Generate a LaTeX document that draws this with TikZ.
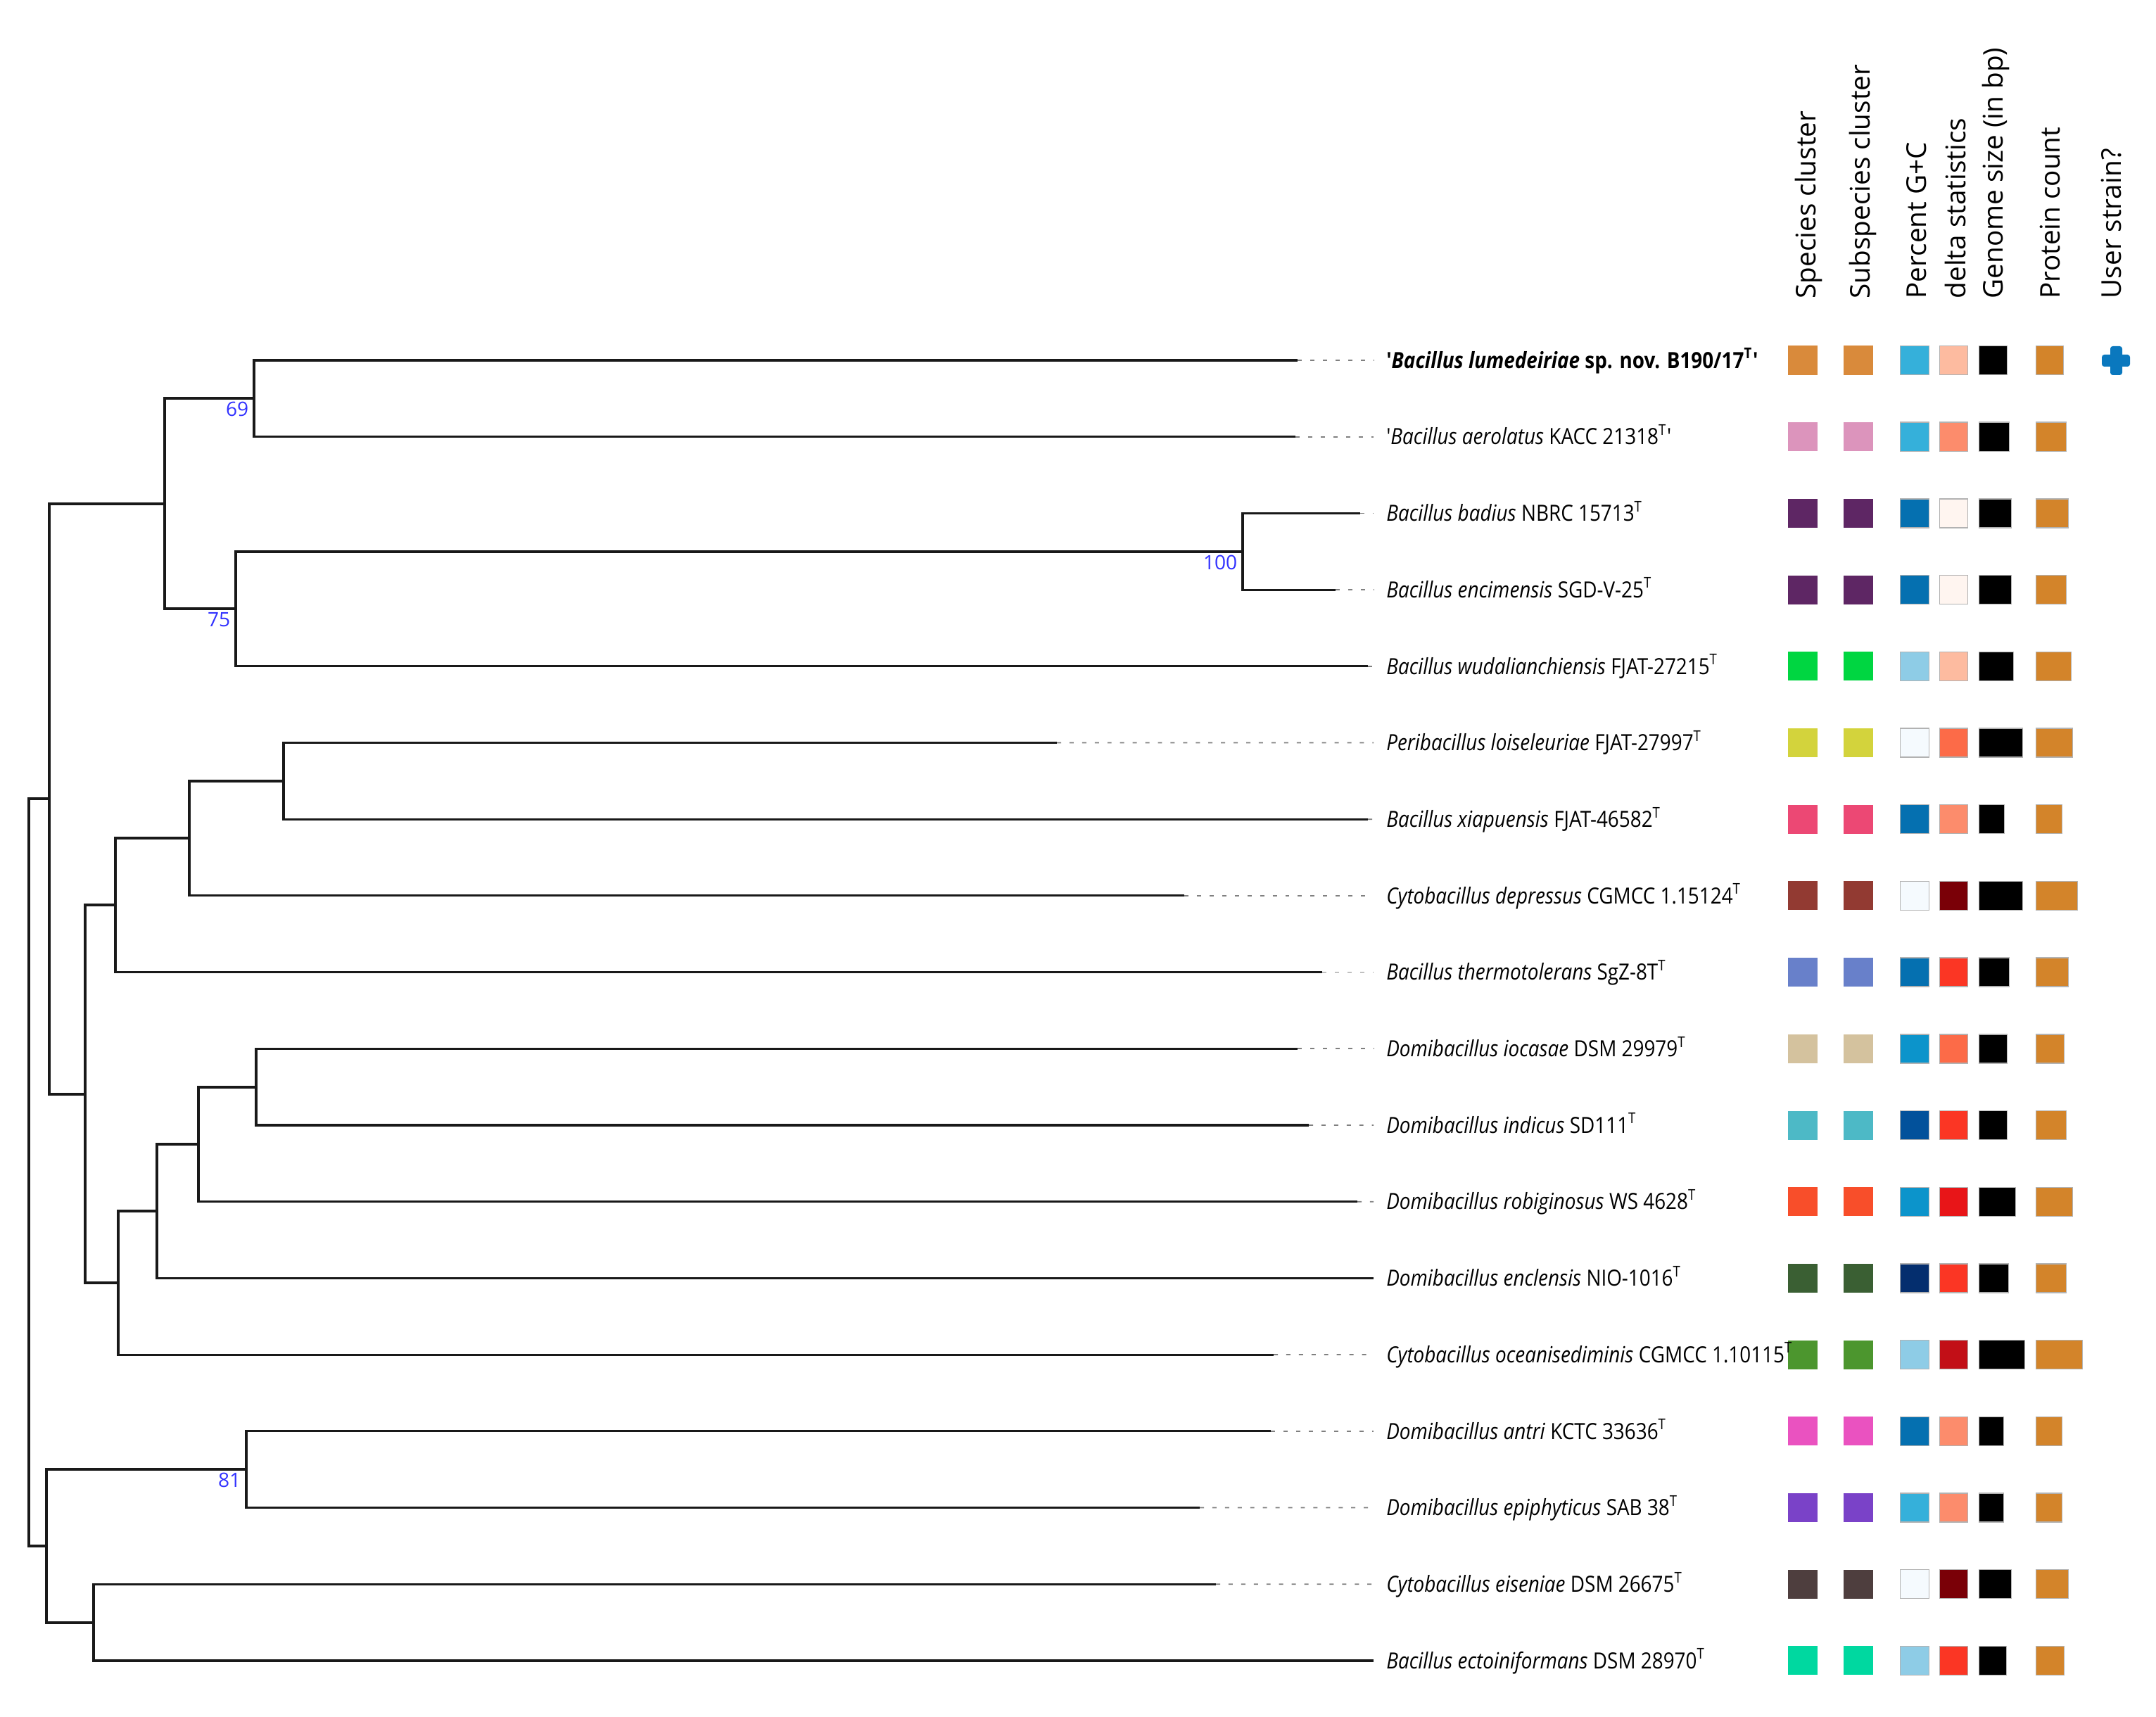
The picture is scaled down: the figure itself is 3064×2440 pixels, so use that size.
\documentclass[tikz,border=0pt]{standalone}
\usepackage{fontspec}
\setmainfont{Open Sans}
\newfontfamily\lblfont{Open Sans}[FakeStretch=0.88]

\definecolor{bootblue}{RGB}{50,50,255}
\definecolor{userblue}{HTML}{0A78BE}
\definecolor{protcol}{HTML}{D3842A}

\tikzset{
  branch/.style={line width=0.9pt, black!90},
  leader/.style={gray, line width=0.5pt, dash pattern=on 1.7pt off 3.4pt},
  taxon/.style={anchor=west, inner xsep=5pt, inner ysep=0pt,
    text height=6.4pt, text depth=0pt, font=\lblfont\fontsize{9}{10}\selectfont},
  boot/.style={anchor=north east, inner sep=0pt, text=bootblue,
    font=\fontsize{8}{9}\selectfont, xshift=-2pt, yshift=-1.3pt},
  colhead/.style={rotate=90, anchor=west, inner sep=0pt, font=\fontsize{11}{12}\selectfont},
  cell/.style={anchor=west, inner sep=0pt, minimum height=0.41cm, minimum width=0.42cm},
  framed/.style={cell, draw=gray!60, line width=0.4pt},
}

\begin{document}
\begin{tikzpicture}[x=0.01cm, y=-0.01cm]
  \useasboundingbox (0,0) rectangle (3064,2440);

  % leaf ends
  \foreach \r/\ex in {1/1844,2/1841,3/1933,4/1898,5/1944,6/1502,7/1944,8/1683,9/1879,
      10/1844,11/1860,12/1929,13/1952,14/1810,15/1806,16/1705,17/1728,18/1952}
    \coordinate (t\r) at (\ex, {512+108.7*(\r-1)});

  % inner nodes
  \coordinate (n69) at (361,566);
  \coordinate (n100) at (1766,784);
  \coordinate (n75) at (335,865);
  \coordinate (na) at (234,716);
  \coordinate (nb) at (403,1110);
  \coordinate (nc) at (269,1191);
  \coordinate (nd) at (164,1286);
  \coordinate (ne) at (364,1545);
  \coordinate (nf) at (282,1626);
  \coordinate (ng) at (223,1721);
  \coordinate (nh) at (168,1823);
  \coordinate (ni) at (121,1555);
  \coordinate (nj) at (70,1135);
  \coordinate (n81) at (350,2088);
  \coordinate (nk) at (133,2306);
  \coordinate (nl) at (66,2197);
  \coordinate (root) at (41,1666);

  % branches
  \foreach \p/\c in {n69/t1, n69/t2, n100/t3, n100/t4, n75/n100, n75/t5,
      na/n69, na/n75, nb/t6, nb/t7, nc/nb, nc/t8, nd/nc, nd/t9,
      ne/t10, ne/t11, nf/ne, nf/t12, ng/nf, ng/t13, nh/ng, nh/t14,
      ni/nd, ni/nh, nj/na, nj/ni, n81/t15, n81/t16, nk/t17, nk/t18,
      nl/n81, nl/nk, root/nj, root/nl}
    \draw[branch] (\p) |- (\c);

  % bootstrap values
  \node[boot] (b69) at (n69) {69};
  \node[boot] (b75) at (n75) {75};
  \node[boot] (b100) at (n100) {100};
  \node[boot] (b81) at (n81) {81};

  % column headers
  \node[colhead] (hsp) at (2570,425) {Species cluster};
  \node[colhead] (hss) at (2647,425) {Subspecies cluster};
  \node[colhead] (hgc) at (2724,425) {Percent G+C};
  \node[colhead] (hdl) at (2779,425) {delta statistics};
  \node[colhead] (hgs) at (2836,425) {Genome size (in bp)};
  \node[colhead] (hpc) at (2913,425) {Protein count};
  \node[colhead] (hus) at (3001,425) {User strain?};

  % data cells
  \foreach \r/\sp/\gc/\dl/\gw/\pw in {
      1/D98A3B/35B0DA/FDBBA0/40/39, 2/DC94BC/35B0DA/FC8C6C/43/43,
      3/5E2664/0570B0/FFF5F0/46/46, 4/5E2664/0570B0/FFF5F0/46/43,
      5/00D641/8ECCE6/FDBBA0/49/50, 6/D3D33C/F5FAFE/FC6B48/62/52,
      7/EC4874/0570B0/FC8C6C/36/37, 8/923A32/F5FAFE/7A0007/62/59,
      9/6880CA/0570B0/FB3624/43/46, 10/D4C29E/0C94CB/FC6B48/40/40,
      11/4DB9C6/02519B/FB3624/40/43, 12/F84E2A/0C94CB/E81518/52/52,
      13/3A5F33/042E6E/FB3624/42/43, 14/4C962E/8ECCE6/C20F17/65/66,
      15/EA52C0/0570B0/FC8C6C/35/37, 16/7A42C8/35B0DA/FC8C6C/35/37,
      17/4E3E3E/F5FAFE/7A0007/46/46, 18/00D8A0/8ECCE6/FB3624/39/40} {
    \definecolor{spc}{HTML}{\sp}
    \definecolor{gcc}{HTML}{\gc}
    \definecolor{dlc}{HTML}{\dl}
    \pgfmathsetmacro\yy{512+108.7*(\r-1)}
    \node[cell, fill=spc] (sp\r) at (2540,\yy) {};
    \node[cell, fill=spc] (ss\r) at (2619,\yy) {};
    \node[framed, fill=gcc, minimum width=0.41cm] (gc\r) at (2700,\yy) {};
    \node[framed, fill=dlc, minimum width=0.40cm] (dl\r) at (2756,\yy) {};
    \node[framed, fill=black, minimum width=\gw*0.1mm] (gs\r) at (2812,\yy) {};
    \node[framed, fill=protcol, minimum width=\pw*0.1mm] (pc\r) at (2893,\yy) {};
  }

  % user strain mark
  \fill[userblue, rounded corners=1pt] (2987,504) rectangle (3027,521);
  \fill[userblue, rounded corners=1pt] (2999,492) rectangle (3016,533);

  % taxa
  \node[taxon] (lab1) at (1952,512) {\bfseries '\textit{Bacillus lumedeiriae} sp. nov. B190/17\textsuperscript{T}'};
  \node[taxon] (lab2) at (1952,620.7) {'\textit{Bacillus aerolatus} KACC 21318\textsuperscript{T}'};
  \node[taxon] (lab3) at (1952,729.4) {\textit{Bacillus badius} NBRC 15713\textsuperscript{T}};
  \node[taxon] (lab4) at (1952,838.1) {\textit{Bacillus encimensis} SGD-V-25\textsuperscript{T}};
  \node[taxon] (lab5) at (1952,946.8) {\textit{Bacillus wudalianchiensis} FJAT-27215\textsuperscript{T}};
  \node[taxon] (lab6) at (1952,1055.5) {\textit{Peribacillus loiseleuriae} FJAT-27997\textsuperscript{T}};
  \node[taxon] (lab7) at (1952,1164.2) {\textit{Bacillus xiapuensis} FJAT-46582\textsuperscript{T}};
  \node[taxon] (lab8) at (1952,1272.9) {\textit{Cytobacillus depressus} CGMCC 1.15124\textsuperscript{T}};
  \node[taxon] (lab9) at (1952,1381.6) {\textit{Bacillus thermotolerans} SgZ-8T\textsuperscript{T}};
  \node[taxon] (lab10) at (1952,1490.3) {\textit{Domibacillus iocasae} DSM 29979\textsuperscript{T}};
  \node[taxon] (lab11) at (1952,1599) {\textit{Domibacillus indicus} SD111\textsuperscript{T}};
  \node[taxon] (lab12) at (1952,1707.7) {\textit{Domibacillus robiginosus} WS 4628\textsuperscript{T}};
  \node[taxon] (lab13) at (1952,1816.4) {\textit{Domibacillus enclensis} NIO-1016\textsuperscript{T}};
  \node[taxon] (lab14) at (1952,1925.1) {\textit{Cytobacillus oceanisediminis} CGMCC 1.10115\textsuperscript{T}};
  \node[taxon] (lab15) at (1952,2033.8) {\textit{Domibacillus antri} KCTC 33636\textsuperscript{T}};
  \node[taxon] (lab16) at (1952,2142.5) {\textit{Domibacillus epiphyticus} SAB 38\textsuperscript{T}};
  \node[taxon] (lab17) at (1952,2251.2) {\textit{Cytobacillus eiseniae} DSM 26675\textsuperscript{T}};
  \node[taxon] (lab18) at (1952,2359.9) {\textit{Bacillus ectoiniformans} DSM 28970\textsuperscript{T}};

  \foreach \r in {1,...,18}
    \draw[leader] (t\r) -- (lab\r.west);
\end{tikzpicture}
\end{document}
